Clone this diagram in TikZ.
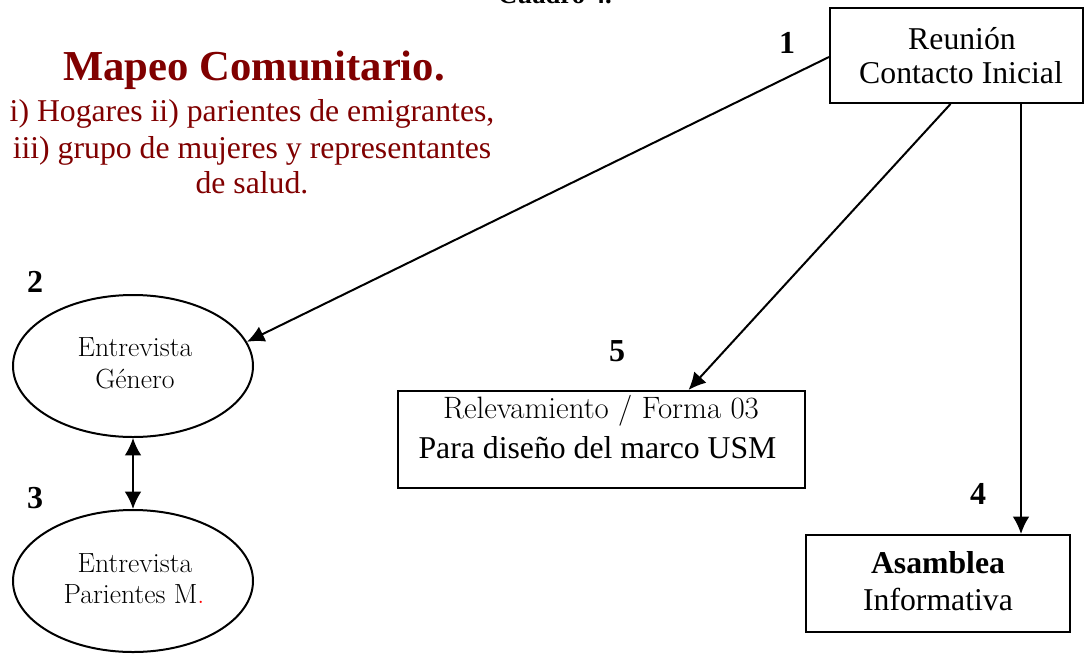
\documentclass[tikz,border=0pt]{standalone}
\usepackage{fontspec}
\newfontfamily\tnr{Liberation Serif}
\usetikzlibrary{shapes.geometric,arrows.meta,calc}
\definecolor{maroon}{HTML}{800000}
\begin{document}
\begin{tikzpicture}[x=0.75pt,y=-0.75pt,line width=1.5pt,
  tx/.style={inner sep=0pt,anchor=base,font=\tnr\fontsize{23.8pt}{26pt}\selectfont},
  txb/.style={tx,font=\tnr\bfseries\fontsize{23.8pt}{26pt}\selectfont},
  gar/.style={inner sep=0pt,anchor=base,font=\fontsize{20.8pt}{24pt}\selectfont},
  garl/.style={inner sep=0pt,anchor=base,font=\fontsize{23.2pt}{26pt}\selectfont},
  num/.style={inner sep=0pt,anchor=base,font=\tnr\bfseries\fontsize{24pt}{26pt}\selectfont},
  ttl/.style={inner sep=0pt,anchor=base,text=maroon,font=\tnr\bfseries\fontsize{32pt}{34pt}\selectfont},
  sub/.style={tx,text=maroon},
  box/.style={draw,rectangle,inner sep=0pt},
  oval/.style={draw,ellipse,inner sep=0pt,minimum width=180pt,minimum height=106.5pt},
  arr/.style={-{Latex[length=13pt,width=12.5pt]}},
  darr/.style={{Latex[length=13pt,width=12.5pt]}-{Latex[length=13pt,width=12.5pt]}}]
\useasboundingbox (0,0) rectangle (1084,653);
\clip (0,0) rectangle (1084,653);
% caption (cut off at the top edge, as in the reference)
\node[txb,font=\tnr\bfseries\fontsize{20pt}{22pt}\selectfont] (cap) at (555,3) {Cuadro 4.};
% title block
\node[ttl] (t0) at (254,80) {Mapeo Comunitario.};
\node[sub] (t1) at (252,121) {i) Hogares ii) parientes de emigrantes,};
\node[sub] (t2) at (252,158) {iii) grupo de mujeres y representantes};
\node[sub] (t3) at (252,193) {de salud.};
% shapes
\node[box,minimum width=189.75pt,minimum height=71.25pt] (R) at (956.5,55.5) {};
\node[box,minimum width=305.25pt,minimum height=72.75pt] (F) at (601.5,439.5) {};
\node[box,minimum width=198pt,minimum height=72.75pt] (A) at (938,583.5) {};
\node[oval] (E1) at (133,366) {};
\node[oval] (E2) at (133,581) {};
% texts
\node[tx] (r1) at (962,49) {Reunión};
\node[tx] (r2) at (961,83) {Contacto Inicial};
\node[garl] (f1) at (601,418) {Relevamiento / Forma 03};
\node[tx] (f2) at (597.5,458) {Para diseño del marco USM};
\node[txb] (a1) at (938,573) {Asamblea};
\node[tx] (a2) at (938,610) {Informativa};
\node[gar] (e11) at (135,356) {Entrevista};
\node[gar] (e12) at (135,388) {Género};
\node[gar] (e21) at (135,572) {Entrevista};
\node[gar] (e22) at (134,603) {Parientes M\textcolor{red}{.}};
% numbers
\node[num] (n1) at (787,53) {1};
\node[num] (n2) at (35,292) {2};
\node[num] (n3) at (35,508) {3};
\node[num] (n4) at (978,504) {4};
\node[num] (n5) at (617,361) {5};
% connectors
\draw[arr] ($(R.west)+(0,1.5)$) -- (E1.12);
\coordinate (r3) at ($(R.south)+(-6,0)$);
\draw[arr] (r3) -- ($(F.north)+(87,0)$);
\coordinate (r4) at ($(R.south)+(64.5,0)$);
\draw[arr] (r4) -- (r4 |- A.north);
\draw[darr] (E1.south) -- (E2.north);
\end{tikzpicture}
\end{document}
